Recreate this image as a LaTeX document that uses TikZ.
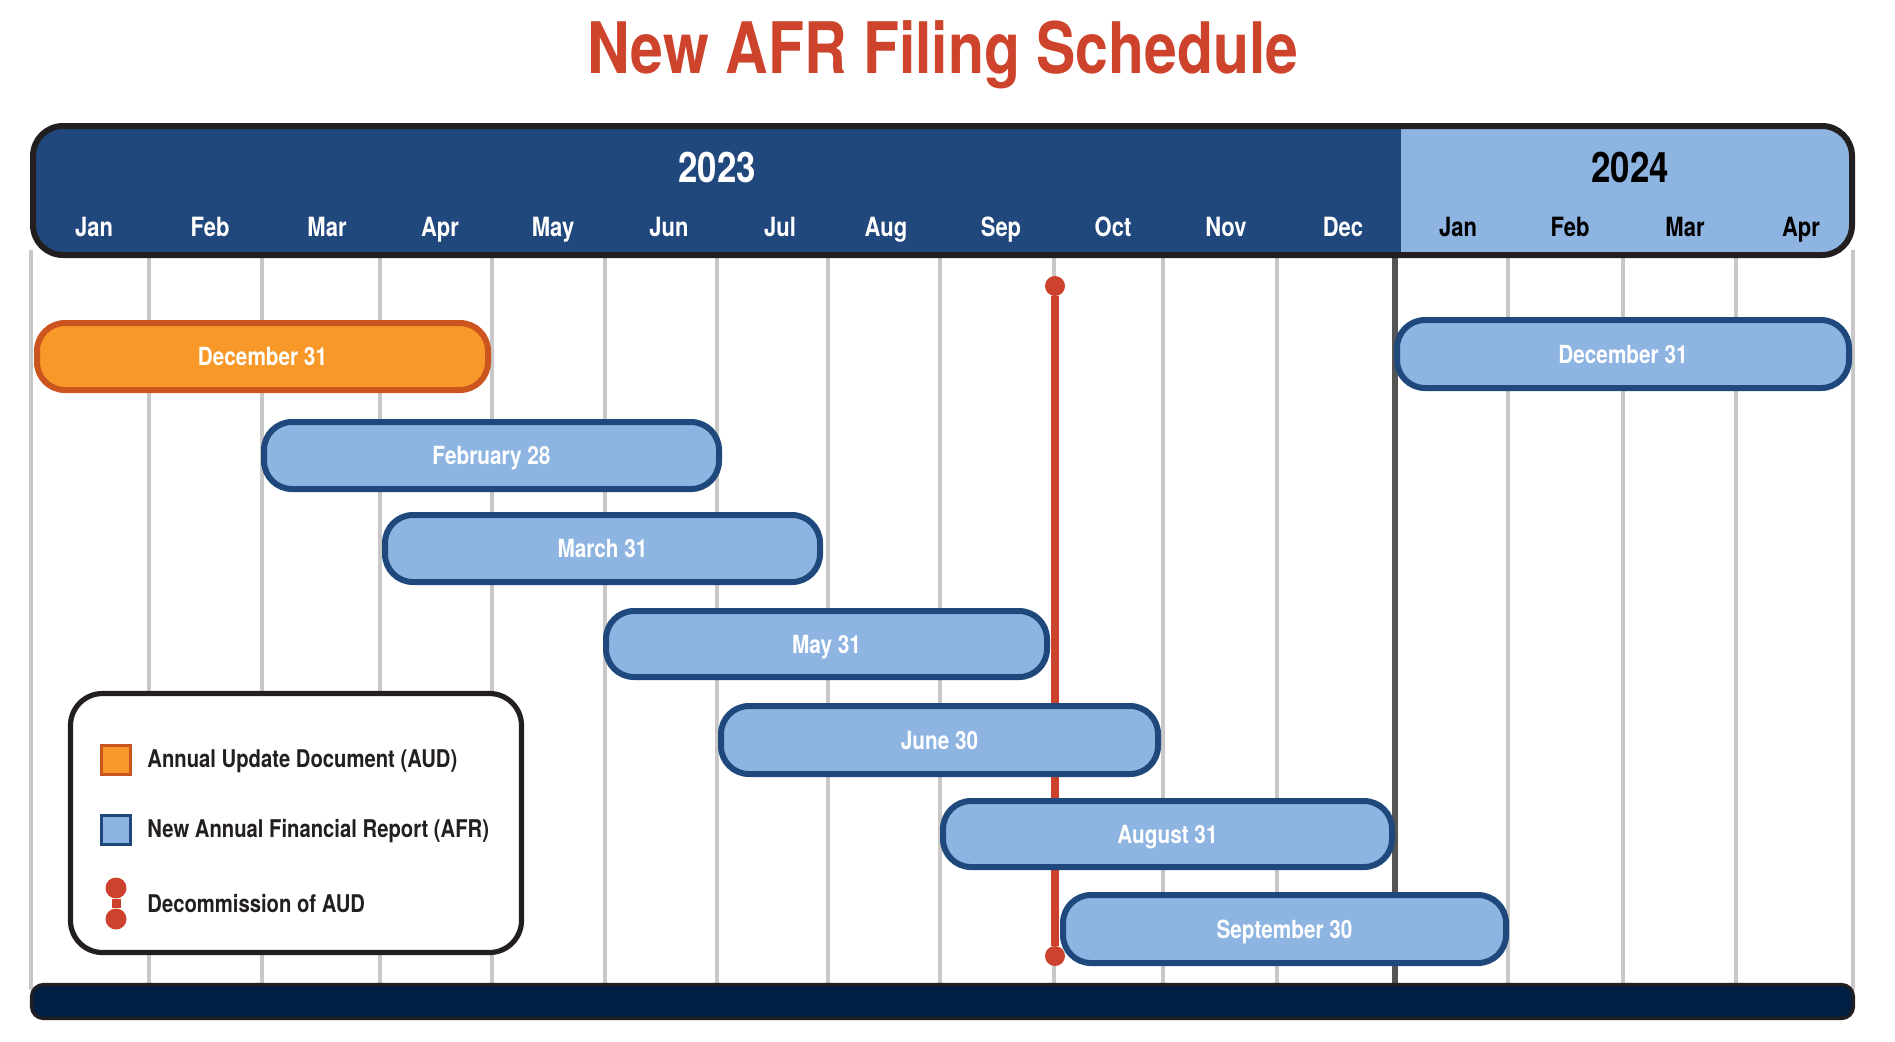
\documentclass[tikz,border=0pt]{standalone}
\usepackage{fontspec}
\setmainfont[FakeStretch=0.83]{TeX Gyre Heros}
\definecolor{titlered}{RGB}{205,67,43}
\definecolor{hdrblue}{RGB}{33,72,124}
\definecolor{ltblue}{RGB}{142,180,226}
\definecolor{bdblue}{RGB}{31,73,125}
\definecolor{orfill}{RGB}{247,152,41}
\definecolor{orbord}{RGB}{204,84,30}
\definecolor{navy}{RGB}{0,31,66}
\definecolor{ink}{RGB}{35,31,32}
\definecolor{gridgray}{RGB}{200,200,200}
\definecolor{darkgridgray}{RGB}{85,85,85}
\definecolor{redline}{RGB}{205,66,44}
\tikzset{
  barsize/.style 2 args={minimum width={(#1-6)*0.5pt}, minimum height={(#2-6)*0.5pt}},
  bar/.style={draw=bdblue, fill=ltblue, line width=3pt, rounded corners=14pt,
    text=white, font=\bfseries\fontsize{12.5}{14}\selectfont,
    text height=9pt, text depth=0pt, inner sep=0pt},
  audbar/.style={bar, draw=orbord, fill=orfill},
  month/.style={font=\bfseries\fontsize{13.25}{15}\selectfont, anchor=base, inner sep=0pt},
  year/.style={font=\bfseries\fontsize{21}{24}\selectfont, anchor=base, inner sep=0pt},
  gridline/.style={gridgray, line width=1.6pt},
  dot/.style={circle, fill=redline, inner sep=0pt, minimum size=10pt},
  legtext/.style={font=\bfseries\fontsize{12.2}{14}\selectfont, text=ink, anchor=base west, inner sep=0pt},
  keysq/.style={line width=1.5pt, minimum size=14.5pt, inner sep=0pt}
}
\begin{document}
\begin{tikzpicture}[x=0.5pt,y=-0.5pt]
\useasboundingbox (0,0) rectangle (1895,1041);
% title
\node[font=\bfseries\fontsize{35.5}{40}\selectfont, text=titlered, anchor=base, inner sep=0pt]
  (title) at (943,73) {New AFR Filing Schedule};
% grid lines
\foreach \gx in {31,149,262,380,492,605,717,828,940,1054,1163,1277,1508,1623,1736,1853}
  \draw[gridline] (\gx,250) -- (\gx,990);
\draw[darkgridgray, line width=2.8pt] (1395,250) -- (1395,990);
% decommission line
\node[dot] (dtop) at (1055,286) {};
\node[dot] (dbot) at (1055,956) {};
\draw[redline, line width=4pt] (dtop) -- (dbot);
% bars
\node[audbar, barsize={457}{73}] (aud) at (262.5,356.5) {December 31};
\node[bar, barsize={458}{74}] (dec24) at (1623,354) {December 31};
\node[bar, barsize={461}{73}] (feb) at (491.5,455.5) {February 28};
\node[bar, barsize={441}{73}] (mar) at (602.5,548.5) {March 31};
\node[bar, barsize={447}{72}] (may) at (826.5,644) {May 31};
\node[bar, barsize={443}{74}] (jun) at (939.5,740) {June 30};
\node[bar, barsize={455}{72}] (aug) at (1167.5,834) {August 31};
\node[bar, barsize={449}{74}] (sep) at (1284.5,929) {September 30};
% legend
\node[draw=ink, fill=white, line width=2.6pt, rounded corners=16pt,
  minimum width={(456-5)*0.5pt}, minimum height={(264-5)*0.5pt}] (legend) at (296,823) {};
\node[keysq, draw=orbord, fill=orfill] (kaud) at (116,760) {};
\node[keysq, draw=bdblue, fill=ltblue] (kafr) at (116,830) {};
\node[dot, minimum size=10.5pt] (kd1) at (116,888) {};
\node[dot, minimum size=10.5pt] (kd2) at (116,919) {};
\draw[redline, line width=4.5pt] (kd1) -- (kd2);
\node[legtext] (taud) at (147,767) {Annual Update Document (AUD)};
\node[legtext] (tafr) at (147,837) {New Annual Financial Report (AFR)};
\node[legtext] (tdec) at (147,912) {Decommission of AUD};
% footer bar
\node[draw=ink, fill=navy, line width=1.6pt, rounded corners=6pt,
  minimum width={(1825-3)*0.5pt}, minimum height={(37-3)*0.5pt}] (footer) at (942.5,1001.5) {};
% header
\begin{scope}
  \clip[rounded corners=15pt] (33,126) rectangle (1852,255);
  \fill[ltblue] (33,126) rectangle (1852,255);
  \fill[hdrblue] (33,126) rectangle (1401,255);
\end{scope}
\draw[ink, line width=3pt, rounded corners=15pt] (33,126) rectangle (1852,255);
\node[year, text=white] (y23) at (717,182) {2023};
\node[year, text=black] (y24) at (1630,182) {2024};
\foreach \mx/\mn in {94/Jan,210/Feb,327/Mar,440/Apr,553/May,669/Jun,780/Jul,886/Aug,1001/Sep,1113/Oct,1226/Nov,1343/Dec}
  \node[month, text=white] at (\mx,236) {\mn};
\foreach \mx/\mn in {1458/Jan,1570/Feb,1685/Mar,1801/Apr}
  \node[month, text=black] at (\mx,236) {\mn};
\end{tikzpicture}
\end{document}
